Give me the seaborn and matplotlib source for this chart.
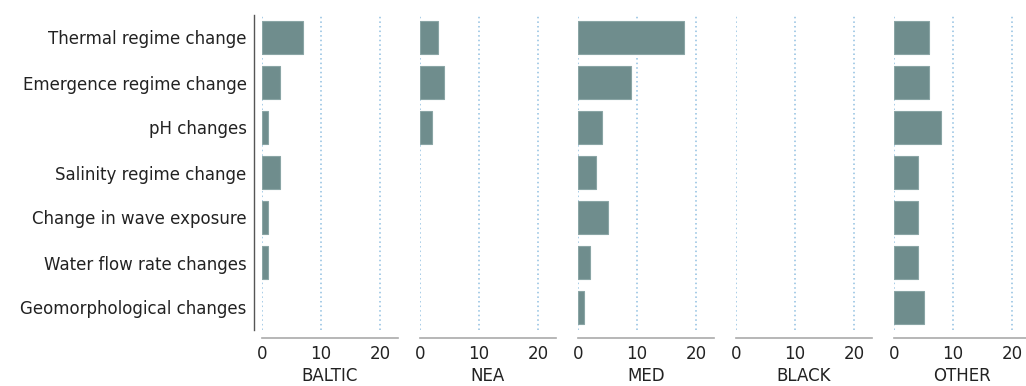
import pandas as pd
import seaborn as sns
import matplotlib.pyplot as plt

# --- dati ---
pressures = ['Thermal regime change', 'Emergence regime change', 'pH changes',
             'Salinity regime change', 'Change in wave exposure',
             'Water flow rate changes', 'Geomorphological changes']
regions = ['BALTIC', 'NEA', 'MED', 'BLACK', 'OTHER']

baltic = [7, 3, 1, 3, 1, 1, 0]
nea = [3, 4, 2, 0, 0, 0, 0]
med = [18, 9, 4, 3, 5, 2, 1]
black = [0, 0, 0, 0, 0, 0, 0]
other = [6, 6, 8, 4, 4, 4, 5]

counts = {'BALTIC': baltic, 'NEA': nea, 'MED': med, 'BLACK': black, 'OTHER': other}
rows = []
for reg in regions:
    for p, v in zip(pressures, counts[reg]):
        rows.append({'region': reg, 'pressure': p, 'n': v})
df = pd.DataFrame(rows)

# --- plot ---
sns.set_style("white")
plt.rcParams['font.family'] = ['DejaVu Sans']
fig = plt.figure(figsize=(10.26, 3.86), dpi=100)

W, H = 1026, 386
bar_col = '#6f8d8d'
for i, reg in enumerate(regions):
    left = (262 + i * 158) / W
    ax = fig.add_axes([left, 1 - 330 / H, 136 / W, 315 / H])
    sub = df[df['region'] == reg]
    sns.barplot(data=sub, x='n', y='pressure', order=pressures, color=bar_col,
                saturation=1, width=0.74, edgecolor='#8aa5a5', linewidth=0.8,
                errorbar=None, ax=ax, zorder=3)
    # niente barre vuote
    for p in ax.patches:
        if p.get_width() == 0:
            p.set_visible(False)
    ax.set_xlim(0, 23)
    ax.set_ylim(6.5, -0.5)
    ax.set_xticks([0, 10, 20])
    for xv in [0, 10, 20]:
        ax.axvline(xv, color='#8fbfe0', linestyle=(0, (1, 2)), linewidth=1.1, zorder=1)
    ax.tick_params(axis='both', length=0, labelsize=12, colors='#222222', pad=5)
    ax.set_xlabel(reg, fontsize=12, color='#222222', labelpad=3)
    ax.set_ylabel('')
    for s in ['top', 'right']:
        ax.spines[s].set_visible(False)
    ax.spines['bottom'].set_position(('outward', 6))
    ax.spines['bottom'].set_color('#aaaaaa')
    ax.spines['bottom'].set_linewidth(1.2)
    if i == 0:
        ax.spines['left'].set_position(('outward', 6))
        ax.spines['left'].set_color('#555555')
        ax.spines['left'].set_linewidth(1)
        ax.tick_params(axis='y', pad=5)
    else:
        ax.spines['left'].set_visible(False)
        ax.set_yticklabels([])

fig.savefig('out.png', dpi=100)
